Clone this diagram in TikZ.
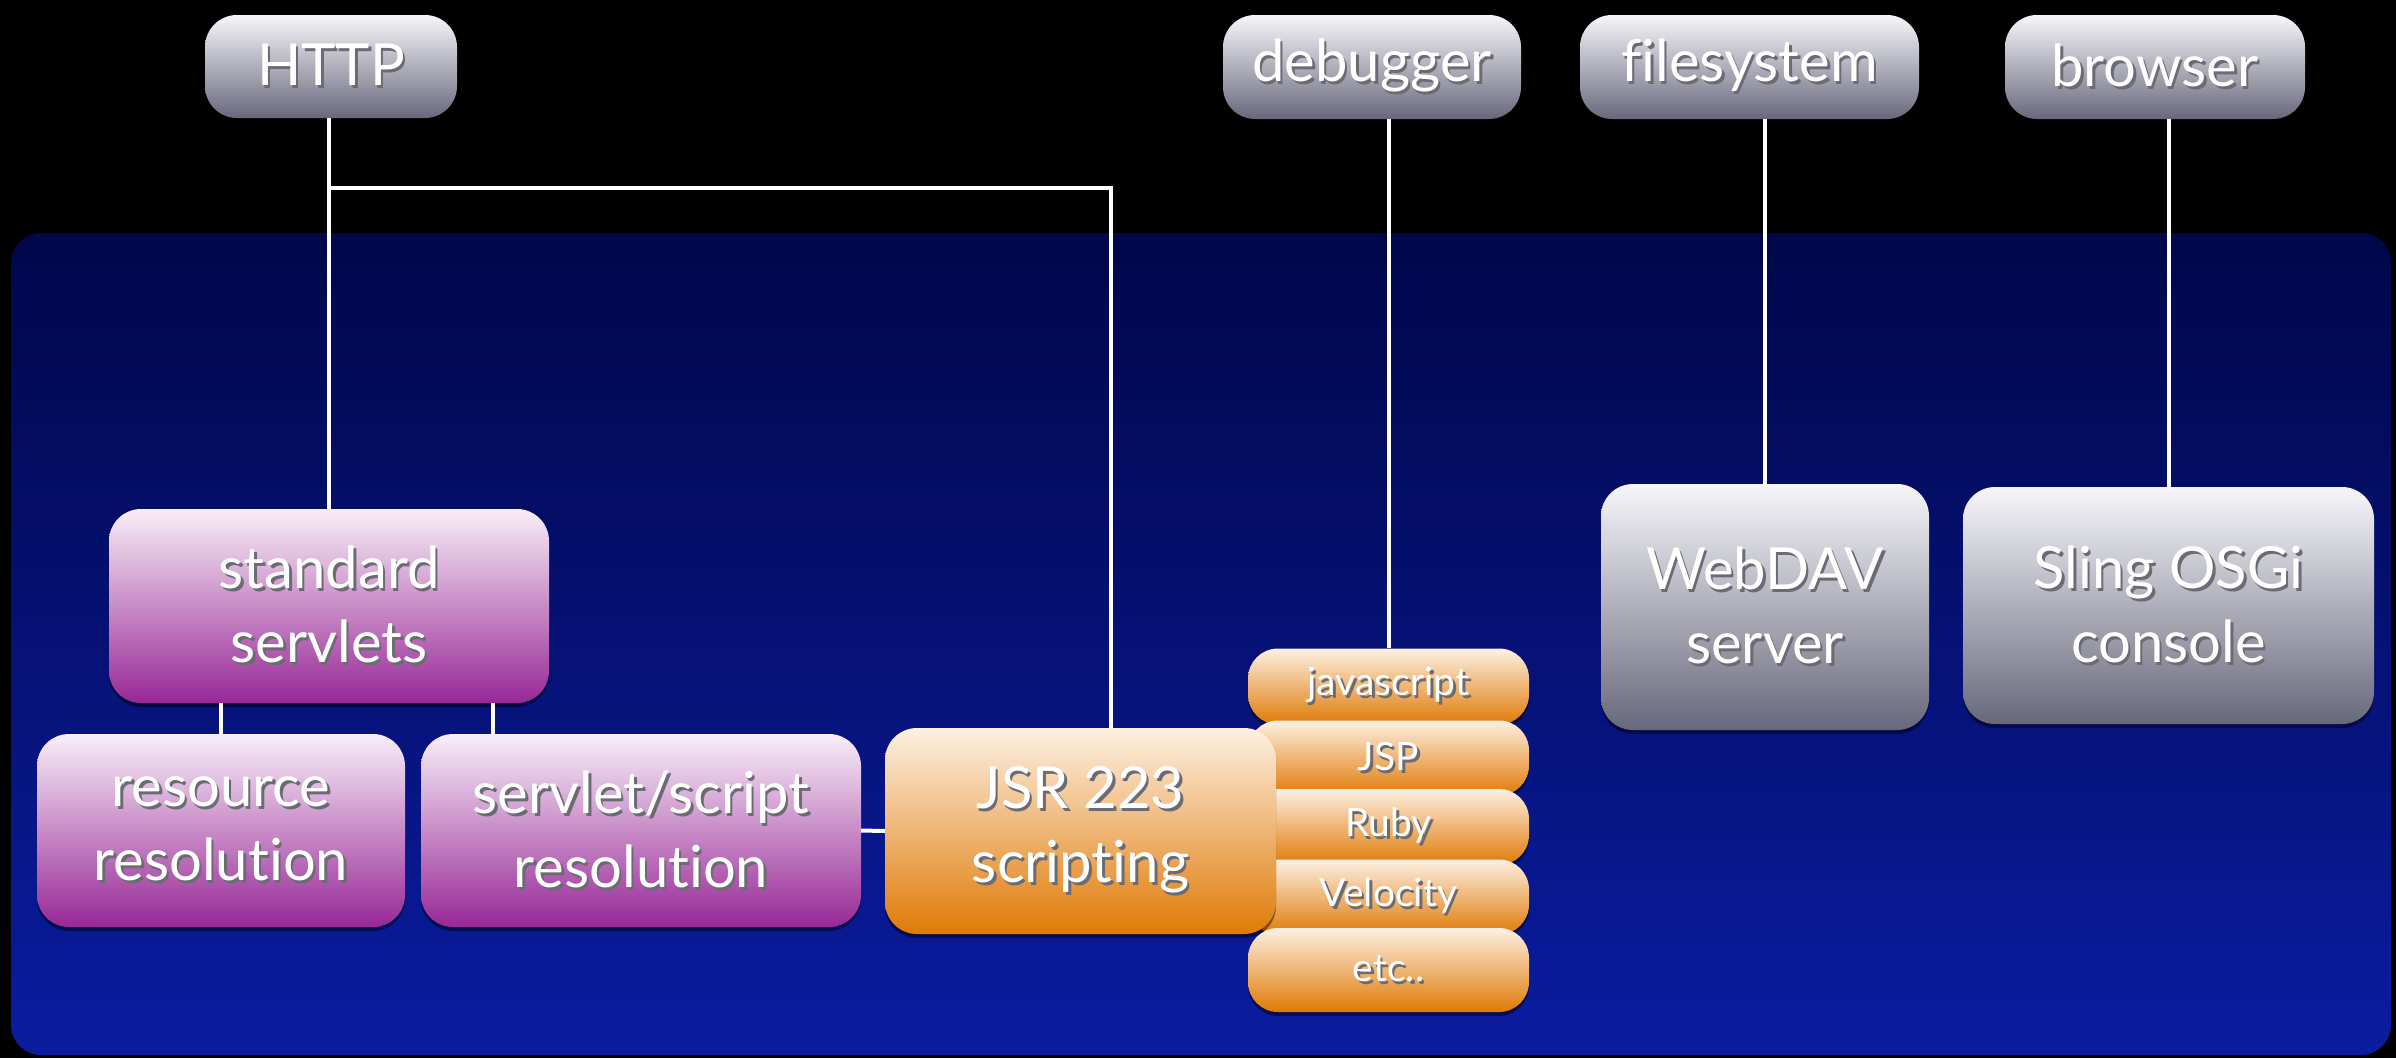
\documentclass[tikz,border=0pt]{standalone}
\usepackage{fontspec}
\setmainfont[Ligatures={NoCommon}]{Lato}
\usetikzlibrary{calc,shadows}
\definecolor{panelTop}{HTML}{00074A}
\definecolor{panelBot}{HTML}{0B1CA0}
\definecolor{grayTop}{HTML}{F6F6FA}
\definecolor{grayBot}{HTML}{68687C}
\definecolor{purTop}{HTML}{F8EEF8}
\definecolor{purBot}{HTML}{982896}
\definecolor{orTop}{HTML}{FDF0E2}
\definecolor{orBot}{HTML}{E07A06}
\definecolor{txtShadow}{HTML}{3A3A46}
\newcommand\shtxt[1]{\leavevmode\rlap{\kern2.5pt\raisebox{-3pt}{\textcolor{txtShadow!75}{#1}}}#1}
\tikzset{
  boxbase/.style={rounded corners=32pt, inner sep=0pt, align=center, text=white,
    drop shadow={shadow xshift=0pt, shadow yshift=-4pt, opacity=0.45, fill=black}},
  bigfont/.style={font=\fontsize{58}{74}\selectfont},
  topfont/.style={font=\fontsize{58}{66}\selectfont},
  smallfont/.style={font=\fontsize{39}{42}\selectfont},
  graybox/.style={boxbase, top color=grayTop, bottom color=grayBot},
  purbox/.style={boxbase, top color=purTop, bottom color=purBot},
  orbox/.style={boxbase, top color=orTop, bottom color=orBot},
  stackbox/.style={orbox, smallfont, rounded corners=30pt, minimum width=281pt},
  wire/.style={draw=white, line width=4pt}
}
\begin{document}
\begin{tikzpicture}[x=1pt,y=-1pt]
\useasboundingbox (0,0) rectangle (2396,1058);
\fill[black] (0,0) rectangle (2396,1058);
\fill[rounded corners=30pt, top color=panelTop, bottom color=panelBot] (11,233) rectangle (2391,1055);

% top row
\node[graybox, topfont, minimum width=252pt, minimum height=103pt] (http) at (331,66.5) {\shtxt{HTTP}};
\node[graybox, topfont, minimum width=298pt, minimum height=104pt] (debugger) at (1372,67) {\shtxt{debugger}};
\node[graybox, topfont, minimum width=339pt, minimum height=104pt] (filesystem) at (1749.5,67) {\shtxt{filesystem}};
\node[graybox, topfont, minimum width=300pt, minimum height=104pt] (browser) at (2155,67) {\shtxt{browser}};

% servlet tree
\node[purbox, bigfont, minimum width=440pt, minimum height=194pt] (std) at (329,606) {\shtxt{standard}\\\shtxt{servlets}};
\node[purbox, bigfont, minimum width=368pt, minimum height=193pt] (res) at (221,830.5) {\shtxt{resource}\\\shtxt{resolution}};
\node[purbox, bigfont, minimum width=440pt, minimum height=193pt] (srv) at (641,830.5) {\shtxt{servlet/script}\\\shtxt{resolution}};

% script engines stack
\node[stackbox, minimum height=76pt] (js) at (1388.5,686.5) {\shtxt{javascript}};
\node[stackbox, minimum height=75pt] (jsp) at (1388.5,758) {\shtxt{JSP}};
\node[stackbox, minimum height=76pt] (ruby) at (1388.5,827) {\shtxt{Ruby}};
\node[stackbox, minimum height=75pt] (velocity) at (1388.5,897) {\shtxt{Velocity}};
\node[stackbox, minimum height=84pt] (etc) at (1388.5,970) {\shtxt{etc..}};

\node[orbox, bigfont, minimum width=391pt, minimum height=206pt] (jsr) at (1080.5,831) {\shtxt{JSR 223}\\\shtxt{scripting}};

% right boxes
\node[graybox, bigfont, minimum width=328pt, minimum height=246pt] (webdav) at (1765,607) {\shtxt{WebDAV}\\\shtxt{server}};
\node[graybox, bigfont, minimum width=411pt, minimum height=237pt] (sling) at (2168.5,605.5) {\shtxt{Sling OSGi}\\\shtxt{console}};

% connectors
\coordinate (jc) at (1111,188);
\coordinate (srvtap) at ($(srv.north west)+(72,0)$);
\draw[wire] (std.north) -- (std.north |- http.south);
\draw[wire] (std.north |- jc) -- (jc) -- (jc |- jsr.north);
\draw[wire] (res.north) -- (res.north |- std.south);
\draw[wire] (srvtap) -- (srvtap |- std.south);
\draw[wire] (srv.east) -- (jsr.west);
\draw[wire] (js.north) -- (js.north |- debugger.south);
\draw[wire] (webdav.north) -- (webdav.north |- filesystem.south);
\draw[wire] (sling.north) -- (sling.north |- browser.south);
\end{tikzpicture}
\end{document}
